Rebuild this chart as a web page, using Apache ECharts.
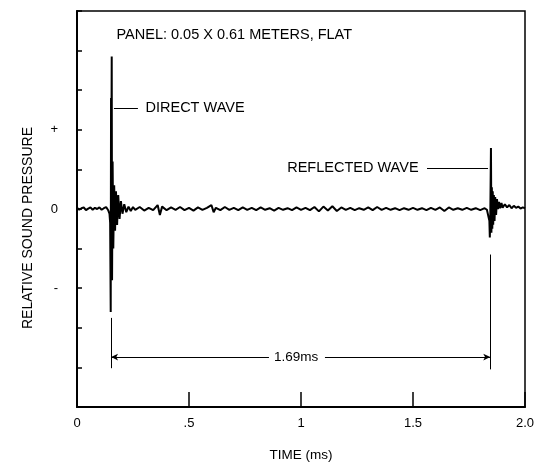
<!DOCTYPE html>
<html><head><meta charset="utf-8">
<script src="https://cdn.jsdelivr.net/npm/echarts@6/dist/echarts.min.js"></script>
<style>html,body{margin:0;padding:0;background:#fff}#c{width:534px;height:464px}</style>
</head><body><div id="c"></div>
<script>
// Time (ms) sample points of the recorded trace
const times = [
  0,0.01,0.02,0.03,0.04,0.05,0.06,0.07,0.08,0.09,0.10,0.11,0.12,0.13,0.14,
  0.145,0.148,0.1505,0.152,0.153,0.155,0.1565,0.159,0.162,0.166,0.170,0.174,0.179,0.184,0.190,0.196,0.203,0.211,0.220,0.230,0.240,0.250,
  0.26,0.28,0.30,0.32,0.34,0.36,0.37,0.38,0.40,0.42,0.44,0.46,0.48,0.50,0.52,0.54,0.56,0.58,0.60,0.61,0.62,0.64,0.66,0.68,0.70,0.72,0.74,0.76,0.78,0.80,
  0.82,0.84,0.86,0.88,0.90,0.92,0.94,0.96,0.98,1.00,1.02,1.04,1.06,1.08,1.10,1.12,1.14,1.16,1.18,1.20,1.22,1.24,1.26,1.28,1.30,
  1.32,1.34,1.36,1.38,1.40,1.42,1.44,1.46,1.48,1.50,1.52,1.54,1.56,1.58,1.60,1.62,1.64,1.66,1.68,1.70,1.72,1.74,1.76,1.78,1.80,1.82,1.83,
  1.838,1.841,1.843,1.845,1.848,1.850,1.852,1.854,1.856,1.858,1.861,1.864,1.867,1.871,1.875,1.879,1.884,1.889,1.895,1.90,1.91,1.92,1.93,1.94,1.95,1.96,1.97,1.98,1.99,2.00
];
// Relative sound pressure at each time
const pressure = [
  0.03,-0.02,0.02,0.04,-0.03,0.01,0.04,-0.02,0.03,0.00,0.04,-0.02,0.02,0.05,-0.04,
  -0.12,-0.35,-2.6,2.8,0.6,3.85,-1.8,1.2,-1.0,0.6,-0.55,0.45,-0.4,0.35,-0.25,0.2,-0.12,0.12,-0.08,0.06,-0.05,0.05,
  -0.02,0.05,-0.04,0.03,-0.03,0.10,-0.15,0.06,-0.03,0.04,-0.02,0.05,-0.03,0.03,-0.04,0.04,-0.02,0.03,0.10,-0.08,0.03,-0.03,0.05,-0.02,0.03,-0.03,0.04,-0.02,0.03,-0.03,
  0.04,-0.02,0.02,-0.04,0.03,-0.02,0.02,-0.03,0.04,-0.02,0.03,-0.03,0.05,-0.06,0.06,-0.04,0.07,-0.05,0.04,-0.02,0.03,-0.03,0.02,-0.02,0.04,
  -0.03,0.05,-0.02,0.03,-0.02,0.02,-0.03,0.02,-0.02,0.03,-0.02,0.02,-0.03,0.03,-0.02,0.04,-0.05,0.04,-0.02,0.02,-0.02,0.03,-0.02,0.02,-0.03,0.02,-0.02,
  0.0,-0.3,-0.72,-0.2,1.54,-0.6,0.55,-0.5,0.45,-0.4,0.35,-0.3,0.3,-0.15,0.25,0.0,0.18,0.02,0.15,0.03,0.12,0.04,0.1,0.02,0.08,0.03,0.06,0.01,0.04,0.02
];
const xTickLabels = {'0':'0','0.5':'.5','1':'1','1.5':'1.5','2':'2.0'};
const yTickLabels = {'2':'+','0':'0','-2':'-'};
const panelText = 'PANEL: 0.05 X 0.61 METERS, FLAT';
const directLabel = 'DIRECT WAVE';
const reflectedLabel = 'REFLECTED WAVE';
const delayLabel = '1.69ms';
// annotation anchor points (data coordinates)
const directTime = 0.152, reflectedTime = 1.845, dimY = -3.74;

const FONT = 'Liberation Sans, Arial, Helvetica, sans-serif';
const chart = echarts.init(document.getElementById('c'), null, {renderer:'canvas'});
const data = times.map((t,i)=>[t, pressure[i]]);
const txt = (coord, text, pos, size) => ({
  coord, symbol:'circle', symbolSize:1, itemStyle:{color:'rgba(0,0,0,0)'},
  label:{show:true, position:pos, distance:0, formatter:text, color:'#000', fontSize:size, fontFamily:FONT}
});
chart.setOption({
  animation:false,
  backgroundColor:'#fff',
  grid:{left:77, top:11, width:448, height:396, show:true, borderColor:'#000', borderWidth:1.5,
    outerBoundsMode:'none', containLabel:false},
  xAxis:{type:'value', min:0, max:2, interval:0.5,
    axisLine:{onZero:false, lineStyle:{color:'#000', width:2}},
    axisTick:{inside:true, length:15, lineStyle:{color:'#000', width:1.5}},
    splitLine:{show:false},
    axisLabel:{color:'#000', fontSize:13, fontFamily:FONT, margin:10, formatter:v=>xTickLabels[String(v)] ?? ''},
    name:'TIME (ms)', nameLocation:'middle', nameGap:41,
    nameTextStyle:{color:'#000', fontSize:13.5, fontFamily:FONT}},
  yAxis:{type:'value', min:-5, max:5, interval:1,
    axisLine:{onZero:false, lineStyle:{color:'#000', width:2}},
    axisTick:{inside:true, length:5, lineStyle:{color:'#000', width:1.5}},
    splitLine:{show:false},
    axisLabel:{color:'#000', fontSize:13, fontFamily:FONT, margin:19, formatter:v=>yTickLabels[String(v)] ?? ''},
    name:'RELATIVE SOUND PRESSURE', nameLocation:'middle', nameGap:42, nameRotate:90,
    nameTextStyle:{color:'#000', fontSize:14, fontFamily:FONT, padding:[0,38,0,0]}},
  series:[{
    type:'line', data, showSymbol:false, symbol:'none',
    lineStyle:{color:'#000', width:2}, z:3,
    markLine:{silent:true, symbol:'none', animation:false,
      lineStyle:{color:'#000', width:1, type:'solid'}, label:{show:false},
      data:[
        [{coord:[directTime,-2.75]},{coord:[directTime,-4.02]}],
        [{coord:[reflectedTime,-1.15]},{coord:[reflectedTime,-4.05]}],
        [{coord:[directTime,dimY], symbol:'arrow', symbolSize:[5,7]},{coord:[0.857,dimY], symbol:'none'}],
        [{coord:[1.107,dimY], symbol:'none'},{coord:[reflectedTime,dimY], symbol:'arrow', symbolSize:[5,7]}],
        [{coord:[0.165,2.55]},{coord:[0.272,2.55]}],
        [{coord:[1.5625,1.035]},{coord:[1.835,1.035]}]
      ]},
    markPoint:{silent:true, animation:false,
      data:[
        txt([0.174,4.39], panelText, 'right', 14.5),
        txt([0.3036,2.55], directLabel, 'right', 14.5),
        txt([1.527,1.035], reflectedLabel, 'left', 14.5),
        txt([0.978,dimY], delayLabel, 'inside', 13.5)
      ]}
  }]
});
</script>
</body></html>
